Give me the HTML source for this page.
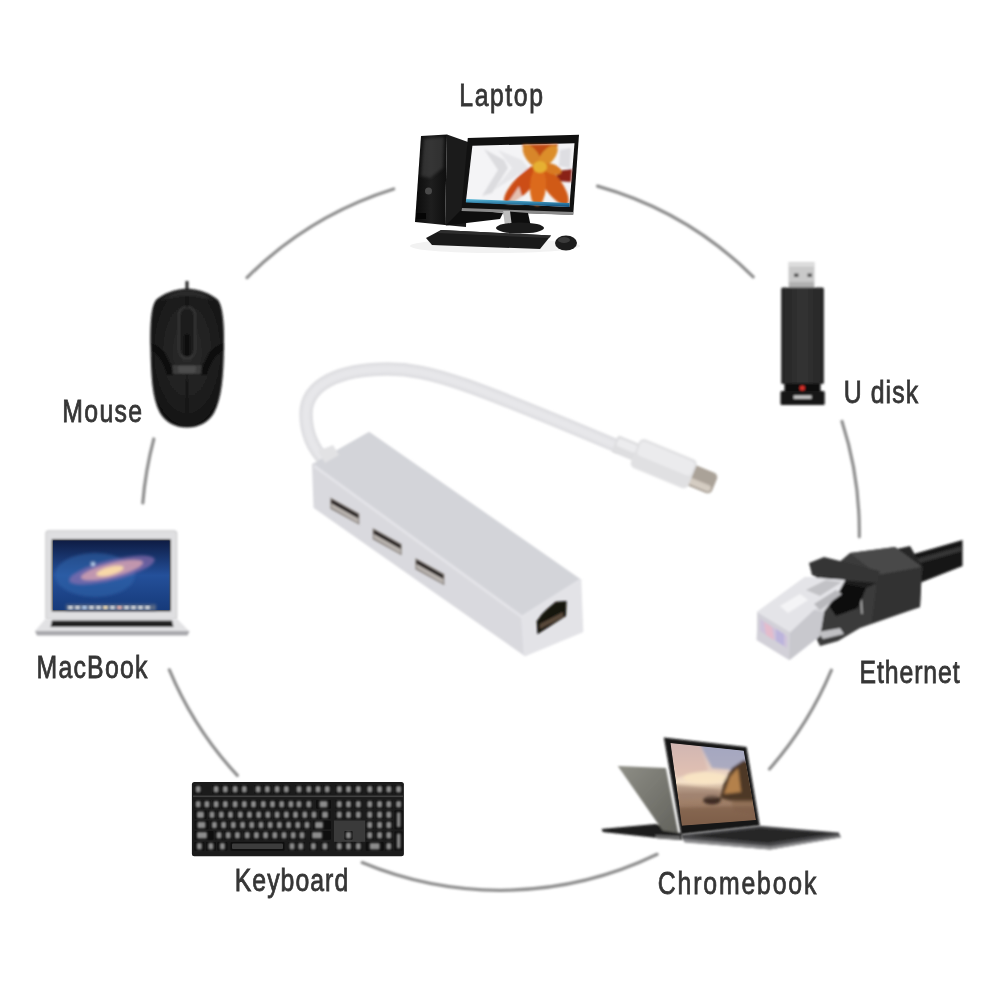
<!DOCTYPE html>
<html><head><meta charset="utf-8">
<style>
html,body{margin:0;padding:0;background:#fff;width:999px;height:999px;overflow:hidden}
svg{display:block}
text{font-family:"Liberation Sans",sans-serif;fill:#363636;stroke:#363636;stroke-width:0.8}
</style></head><body>
<svg width="999" height="999" viewBox="0 0 999 999">
<defs>
<linearGradient id="towerFront" x1="0" y1="0" x2="1" y2="0">
<stop offset="0" stop-color="#0a0a0a"/><stop offset="0.5" stop-color="#1e1e1e"/><stop offset="1" stop-color="#0e0e0e"/>
</linearGradient>
<linearGradient id="flower" x1="0" y1="0" x2="1" y2="1">
<stop offset="0" stop-color="#e07a20"/><stop offset="1" stop-color="#c84a10"/>
</linearGradient>
<radialGradient id="mouseBody" cx="0.5" cy="0.45" r="0.6">
<stop offset="0" stop-color="#2c2c2c"/><stop offset="0.7" stop-color="#1c1c1c"/><stop offset="1" stop-color="#0c0c0c"/>
</radialGradient>
<linearGradient id="udBody" x1="0" y1="0" x2="1" y2="0">
<stop offset="0" stop-color="#262626"/><stop offset="0.5" stop-color="#333"/><stop offset="1" stop-color="#262626"/>
</linearGradient>
<linearGradient id="galaxyBg" x1="0" y1="0" x2="0" y2="1">
<stop offset="0" stop-color="#0e1c44"/><stop offset="0.5" stop-color="#24509a"/><stop offset="1" stop-color="#163a7a"/>
</linearGradient>
<linearGradient id="cbLid" x1="0" y1="0" x2="1" y2="1">
<stop offset="0" stop-color="#8e8e86"/><stop offset="1" stop-color="#62625c"/>
</linearGradient>
<linearGradient id="cbScreen" x1="0" y1="0" x2="0" y2="1">
<stop offset="0" stop-color="#c4b8c0"/><stop offset="0.3" stop-color="#e4ccc0"/><stop offset="0.47" stop-color="#f4e0c8"/><stop offset="0.62" stop-color="#aa8a72"/><stop offset="1" stop-color="#80604c"/>
</linearGradient>
<filter id="soft" x="-10%" y="-10%" width="120%" height="120%"><feGaussianBlur stdDeviation="0.8"/></filter>
<filter id="soft2" x="-20%" y="-20%" width="140%" height="140%"><feGaussianBlur stdDeviation="1.5"/></filter>
<filter id="blur3" x="-30%" y="-30%" width="160%" height="160%"><feGaussianBlur stdDeviation="3"/></filter>
<linearGradient id="taskbar" x1="0" y1="0" x2="0" y2="1"><stop offset="0" stop-color="#5ab8d8"/><stop offset="1" stop-color="#0a4a7a"/></linearGradient>
<clipPath id="cbClip"><polygon points="670.5,743 743.7,750.7 756,820.1 681.9,825.8"/></clipPath>
<filter id="txt" x="-5%" y="-20%" width="110%" height="140%"><feGaussianBlur stdDeviation="0.5"/></filter>
</defs>
<rect width="999" height="999" fill="#fff"/>
<g fill="none" stroke="#8e8e8e" stroke-width="3.2" stroke-linecap="round" filter="url(#soft)">
<path d="M247.0 277.6A358.8 358.8 0 0 1 393.7 189.0"/>
<path d="M597.5 186.1A358.8 358.8 0 0 1 753.2 276.8"/>
<path d="M842.0 421.4A358.8 358.8 0 0 1 859.3 536.7"/>
<path d="M831.4 670.2A358.8 358.8 0 0 1 769.5 769.0"/>
<path d="M657.1 854.3A358.8 358.8 0 0 1 362.2 862.6"/>
<path d="M237.3 775.4A358.8 358.8 0 0 1 169.4 669.8"/>
<path d="M142.8 503.0A358.8 358.8 0 0 1 153.8 439.0"/>
</g>
<!-- desktop computer -->
<g id="desktop">
<ellipse cx="495" cy="246" rx="85" ry="7" fill="#f2f2f2"/>
<!-- tower -->
<polygon points="421,136 447,134.5 445,225 415,222" fill="url(#towerFront)"/>
<polygon points="447,134.5 468,142 466,227 445,225" fill="#1b1b1b"/>
<polygon points="424,139 444,137 443,168 430,178 421,176" fill="#4a4a4a" opacity="0.55" filter="url(#soft2)"/>
<circle cx="428.5" cy="191" r="3.5" fill="#4a4a4a"/>
<rect x="416" y="213" width="10" height="6" fill="#050505"/>
<!-- monitor -->
<polygon points="445.6,225.4 462,209 503,213 500,219" fill="#0e0e0e"/>

<polygon points="467.8,138 579,134.8 573.2,214.8 461.3,210.9" fill="#111"/>
<polygon points="472.4,145.8 574.5,143.2 569.3,207 465.9,201.8" fill="#f4f4f6"/>
<g filter="url(#soft)">
<polygon points="484,149 504,160 508,168 492,193 482,196 498,170" fill="#dcdcdf"/>
<polygon points="498,150 522,160 528,168 510,180 494,190 512,168" fill="#e6e6e9"/>
<polygon points="560,150 571,148 570,168 559,166" fill="#dedee2"/>
<polygon points="557,171 572,169 571,182 556,181" fill="#8a2418"/>
<polygon points="522,144.5 558,144 553,158 540,166 527,158" fill="#c24e16"/>
<ellipse cx="523" cy="184" rx="26" ry="8.5" transform="rotate(134 523 184)" fill="#cc4e12"/>
<ellipse cx="553" cy="185" rx="24" ry="8.5" transform="rotate(54 553 185)" fill="#d05a16"/>
<ellipse cx="538" cy="186" rx="20" ry="8" transform="rotate(93 538 186)" fill="#dc6a1c"/>
<ellipse cx="532" cy="156" rx="13" ry="6.5" transform="rotate(54 532 156)" fill="#d8862a"/>
<ellipse cx="548" cy="156" rx="13" ry="6.5" transform="rotate(130 548 156)" fill="#dc8e2c"/>
<ellipse cx="552" cy="169" rx="10" ry="5" transform="rotate(20 552 169)" fill="#d87a20"/>
<ellipse cx="540" cy="167" rx="7" ry="6" fill="#e6b030"/>
<polygon points="507,204 519,186 524,204" fill="#f0f0f2" opacity="0.7"/>
</g>
<polygon points="466,199 569.7,203 569.3,207 465.9,202.5" fill="url(#taskbar)"/>
<polygon points="462,208 573,212 573,215 461.5,211" fill="#8a8a8a"/>
<!-- stand -->
<polygon points="503,211 528,213 531,227 507,227" fill="#0d0d0d"/>
<polygon points="503,211 510,211 512,227 505,226" fill="#bdbdbd"/>
<ellipse cx="520" cy="228" rx="24" ry="5.5" fill="#1a1a1a"/>
<!-- keyboard -->
<polygon points="426,238 441,230 551,235.5 540,249 432,245" fill="#1a1a1a"/>
<polygon points="441,230 551,235.5 549,238 438,233" fill="#2d2d2d"/>
<!-- mouse -->
<ellipse cx="566" cy="243" rx="11" ry="7.5" fill="#1c1c1c"/>
<ellipse cx="564" cy="240" rx="6" ry="3" fill="#3a3a3a"/>
</g>
<!-- USB hub -->
<g id="hub">
<!-- cable -->
<path d="M326 462 C311 447 306 431 306 414 C306 384 340 369 388 369 C430 369 470 384 617 446" fill="none" stroke="#dfdfe2" stroke-width="13.5" stroke-linecap="round" filter="url(#soft)"/>
<path d="M326 462 C311 447 306 431 306 414 C306 384 340 369 388 369 C430 369 470 384 617 446" fill="none" stroke="#e7e7ea" stroke-width="7" stroke-linecap="round" filter="url(#soft2)"/>
<!-- plug -->
<g transform="translate(635.1 451.85) rotate(22.5)" filter="url(#soft)">
<rect x="56" y="-11" width="30" height="22" rx="5" fill="#aaa298"/>
<rect x="58" y="2.5" width="26" height="6.5" rx="3" fill="#d4ccc2"/>
<rect x="-22" y="-9" width="24" height="18" rx="2" fill="#dedee0"/>
<rect x="-20" y="-6.5" width="20" height="8" rx="2" fill="#ececee"/>
<rect x="0" y="-15.5" width="62" height="31" rx="5" fill="#e0e0e2"/>
<rect x="2" y="-13" width="58" height="15" rx="4" fill="#ebebed"/>
</g>
<!-- body -->
<g filter="url(#soft)">
<polygon points="369,433.5 313.5,465 522.5,616.8 579.8,580.4" fill="#d3d4d9" stroke="#d3d4d9" stroke-width="3" stroke-linejoin="round"/>
<polygon points="313.5,465 522.5,616.8 525.2,654.6 315,507" fill="#d9d9de" stroke="#d9d9de" stroke-width="3" stroke-linejoin="round"/>
<polygon points="522.5,616.8 579.8,580.4 581.8,631 525.2,654.6" fill="#e3e3e7" stroke="#e3e3e7" stroke-width="3" stroke-linejoin="round"/>
<line x1="314" y1="466" x2="522.5" y2="617.5" stroke="#e4e4e8" stroke-width="2.5"/>
<path d="M318 451 L333 445 L339 455 L325 463Z" fill="#e2e2e4"/>
</g>
<!-- usb ports -->
<g id="port" filter="url(#soft)">
<polygon points="330.4,497.6 359.3,513.6 359.3,524.8 330.4,508.8" fill="#8a8480"/>
<polygon points="331.5,499.5 358.2,514.5 358.2,518.5 331.5,503.5" fill="#1a1414"/>
<polygon points="331.5,503.5 358.2,518.5 358.2,523 331.5,507.5" fill="#b8b2ae"/>
</g>
<use href="#port" transform="translate(42.3 30.5)"/>
<use href="#port" transform="translate(85 60.5)"/>
<!-- rj45 -->
<g filter="url(#soft)">
<polygon points="536.7,621.2 541.9,614 546.5,609.5 555.6,601.7 566.6,601 566,616 537.4,634.2" fill="#141210"/>
<polygon points="540,624 563,612 563,617 540,629" fill="#5a4a3a"/>
</g>
</g>
<!-- mouse -->
<g id="mouse">
<g filter="url(#soft)">
<rect x="185.5" y="281" width="3" height="10" fill="#222"/>
<path d="M187 288.5 C174 289 163 294 156 300 C151 307 150 325 150.5 347 C151 375 152 398 160 413 C166 423 176 427.5 187 427.5 C198 427.5 208 423 214 413 C222 398 223.5 375 224 347 C224.5 325 223 307 218 300 C211 294 200 289 187 288.5Z" fill="url(#mouseBody)"/>
<path d="M187 290 C176 291 166 295 160 301 C170 298 178 296 187 296 C196 296 204 298 214 301 C208 295 198 291 187 290Z" fill="#333" opacity="0.6"/>
<rect x="179" y="307" width="16" height="51" rx="8" fill="#1a1a1a" stroke="#3c3c3c" stroke-width="1.6"/>
<rect x="184.5" y="334" width="5" height="22" rx="2.5" fill="#080808"/>
<rect x="186" y="296" width="2" height="11" fill="#101010"/>
<path d="M151 343 C160 346 166 352 170 364 L204 364 C208 352 214 346 224 343 L224 350 C216 354 211 362 207 375 L167 375 C163 362 158 354 151 350Z" fill="#0e0e0e"/>
<path d="M172 365 L202 365 L201 374 L173 374Z" fill="#3e3e3e"/>
<path d="M178 366 L196 366 L195 373 L179 373Z" fill="#4e4e4e"/>
<rect x="186.2" y="375" width="1.6" height="38" fill="#0e0e0e"/>
</g>
</g>
<!-- u disk -->
<g id="udisk" filter="url(#soft)">
<rect x="788.5" y="262" width="26" height="26" fill="#c9c9c9"/>
<rect x="789" y="262.5" width="25" height="4" fill="#dedede"/>
<rect x="789" y="282" width="25" height="6" fill="#b0b0b0"/>
<rect x="794" y="273.5" width="4.5" height="3.5" fill="#505050"/>
<rect x="807.5" y="273.5" width="4.5" height="3.5" fill="#505050"/>
<rect x="781.2" y="287.6" width="42.7" height="96.5" rx="1.5" fill="url(#udBody)"/>
<rect x="784.5" y="383.5" width="36" height="8" fill="#0c0c0c"/>
<circle cx="802.3" cy="388" r="2.6" fill="#d8302a"/>
<rect x="780.5" y="391" width="44.2" height="14" rx="1.5" fill="#121212"/>
<rect x="793.6" y="395.5" width="18" height="3.2" fill="#d0d0d0"/>
</g>
<!-- macbook -->
<g id="macbook">
<g filter="url(#soft)">
<rect x="45.3" y="530.2" width="132" height="90" rx="3.5" fill="#c8c8ca"/>
<rect x="46.3" y="531.2" width="130" height="88" rx="3" fill="#dfdfe1"/>
<rect x="51.8" y="539.3" width="119" height="72" fill="#1a1a1e"/>
</g>
<rect x="53" y="540.5" width="116.6" height="69.6" fill="url(#galaxyBg)"/>
<g filter="url(#soft2)">
<ellipse cx="95" cy="575" rx="40" ry="22" fill="#3468b0" opacity="0.5"/>
<ellipse cx="112" cy="570" rx="44" ry="10" fill="#9070b0" opacity="0.65" transform="rotate(-14 112 570)"/>
<ellipse cx="112" cy="570" rx="32" ry="7" fill="#d0a0b0" opacity="0.85" transform="rotate(-14 112 570)"/>
<ellipse cx="110" cy="571" rx="14" ry="4" fill="#f8d8a8" transform="rotate(-14 110 571)"/>
<circle cx="93" cy="564" r="2" fill="#d0e4f8"/>
<rect x="66" y="604.5" width="90" height="6" fill="#6a7488" opacity="0.8"/>
</g>
<g filter="url(#soft)" fill="#c8ccd4">
<rect x="68" y="605.5" width="5" height="4"/><rect x="75" y="605.5" width="5" height="4"/><rect x="82" y="605.5" width="5" height="4" fill="#a8c0e0"/><rect x="89" y="605.5" width="5" height="4"/><rect x="96" y="605.5" width="5" height="4"/><rect x="103" y="605.5" width="5" height="4" fill="#e0d0b0"/><rect x="110" y="605.5" width="5" height="4"/><rect x="117" y="605.5" width="5" height="4" fill="#d8a8a8"/><rect x="124" y="605.5" width="5" height="4"/><rect x="131" y="605.5" width="5" height="4"/><rect x="138" y="605.5" width="5" height="4"/><rect x="145" y="605.5" width="5" height="4"/>
</g>
<g filter="url(#soft)">
<polygon points="45.3,619 177.2,619 189,631 35,631" fill="#e2e2e4"/>
<polygon points="52,620.5 172,620.5 173.5,627 50.5,627" fill="#222"/>
<polygon points="35,631 189.5,631 187.5,635.5 37,635.5" fill="#a8a8ac"/>
</g>
</g>
<!-- ethernet -->
<g id="eth">
<g filter="url(#soft)">
<!-- cable -->
<polygon points="900,558 962.5,540 962.5,566 917,584" fill="#151515"/>
<polygon points="908,561 962.5,546 962.5,551 910,566" fill="#444" opacity="0.7"/>
<polygon points="892,550 910,546 924,570 906,578" fill="#262626"/>
<!-- boot base -->
<polygon points="812,585 850,553 895,547 922,567 920,607 860,628 838,641 820,646 812,630" fill="#3a3a3a"/>
<polygon points="850,553 895,547 922,567 878,575" fill="#4a4a4a"/>
<polygon points="878,575 922,567 920,607 872,622" fill="#303030"/>
<line x1="861" y1="598" x2="862" y2="614" stroke="#bbb" stroke-width="1.4"/>
<!-- latch -->
<polygon points="809,563 824,557 880,571 877,583 842,580 812,575" fill="#353535"/>
<polygon points="812,575 842,580 877,583 866,588 832,586" fill="#1e1e1e"/>
<!-- black slot -->
<polygon points="824,598 846,584 866,588 858,608 836,616" fill="#0c0c0c"/>
<!-- clear head -->
<polygon points="757,612 805,577 845,580 840,590 824,612 820,636 790,660 757,640" fill="#d8d8dc"/>
<polygon points="757,612 805,577 845,580 838,592 814,610 790,632" fill="#e4e4e8"/>
<polygon points="806,590 826,580 842,582 820,596" fill="#c2c2c6"/>
<polygon points="814,604 836,590 842,594 820,610" fill="#b8b8bc"/>
<polygon points="780,606 800,594 808,600 788,613" fill="#f4f4f6"/>
<polygon points="757.8,613 790,633 789,660 756.5,640" fill="#d2d0d8"/>
<polygon points="760,619 787,636 787,648 760,631" fill="#cec2da"/>
<polygon points="764,622 772,627 774,640 766,635" fill="#e4bccc"/>
<polygon points="776,629 784,634 784,646 776,641" fill="#bcb4dc"/>
<polygon points="790,633 814,610 824,612 820,636 789,660" fill="#c8c8cd"/>
<polygon points="818,632 840,628 844,634 823,639" fill="#c0c0c3"/>
</g>
</g>
<!-- keyboard -->
<g id="kbd">
<rect x="191.9" y="781.9" width="212" height="74.3" rx="2.5" fill="#1b1b1b"/>
<rect x="193" y="795.5" width="210" height="1.6" fill="#404040"/>
<rect x="334" y="820.5" width="31.2" height="21.3" fill="#3a3a3a"/>
<g fill="#0e0e0e">
<rect x="194.1" y="785.1" width="8.2" height="8.6" rx="1"/>
<rect x="212.0" y="785.1" width="8.2" height="8.6" rx="1"/>
<rect x="221.2" y="785.1" width="8.2" height="8.6" rx="1"/>
<rect x="231.0" y="785.1" width="8.2" height="8.6" rx="1"/>
<rect x="240.2" y="785.1" width="8.2" height="8.6" rx="1"/>
<rect x="254.0" y="785.1" width="8.2" height="8.6" rx="1"/>
<rect x="263.2" y="785.1" width="8.2" height="8.6" rx="1"/>
<rect x="273.0" y="785.1" width="8.2" height="8.6" rx="1"/>
<rect x="282.2" y="785.1" width="8.2" height="8.6" rx="1"/>
<rect x="294.9" y="785.1" width="8.2" height="8.6" rx="1"/>
<rect x="304.7" y="785.1" width="8.2" height="8.6" rx="1"/>
<rect x="313.9" y="785.1" width="8.2" height="8.6" rx="1"/>
<rect x="323.1" y="785.1" width="8.2" height="8.6" rx="1"/>
<rect x="335.2" y="785.1" width="8.2" height="8.6" rx="1"/>
<rect x="344.4" y="785.1" width="8.2" height="8.6" rx="1"/>
<rect x="354.2" y="785.1" width="8.2" height="8.6" rx="1"/>
<rect x="365.7" y="785.1" width="8.2" height="8.6" rx="1"/>
<rect x="375.5" y="785.1" width="8.2" height="8.6" rx="1"/>
<rect x="384.7" y="785.1" width="8.2" height="8.6" rx="1"/>
<rect x="394.5" y="785.1" width="8.2" height="8.6" rx="1"/>
<rect x="194.1" y="800.1" width="8.2" height="8.6" rx="1"/>
<rect x="202.8" y="800.1" width="8.2" height="8.6" rx="1"/>
<rect x="212.0" y="800.1" width="8.2" height="8.6" rx="1"/>
<rect x="221.2" y="800.1" width="8.2" height="8.6" rx="1"/>
<rect x="231.0" y="800.1" width="8.2" height="8.6" rx="1"/>
<rect x="240.2" y="800.1" width="8.2" height="8.6" rx="1"/>
<rect x="249.4" y="800.1" width="8.2" height="8.6" rx="1"/>
<rect x="259.2" y="800.1" width="8.2" height="8.6" rx="1"/>
<rect x="268.4" y="800.1" width="8.2" height="8.6" rx="1"/>
<rect x="277.6" y="800.1" width="8.2" height="8.6" rx="1"/>
<rect x="286.8" y="800.1" width="8.2" height="8.6" rx="1"/>
<rect x="294.9" y="800.1" width="8.2" height="8.6" rx="1"/>
<rect x="304.7" y="800.1" width="8.2" height="8.6" rx="1"/>
<rect x="316.0" y="800.1" width="15.0" height="8.6" rx="1"/>
<rect x="194.5" y="810.4" width="12.0" height="8.6" rx="1"/>
<rect x="207.9" y="810.4" width="8.2" height="8.6" rx="1"/>
<rect x="217.2" y="810.4" width="8.2" height="8.6" rx="1"/>
<rect x="226.4" y="810.4" width="8.2" height="8.6" rx="1"/>
<rect x="236.2" y="810.4" width="8.2" height="8.6" rx="1"/>
<rect x="245.4" y="810.4" width="8.2" height="8.6" rx="1"/>
<rect x="254.6" y="810.4" width="8.2" height="8.6" rx="1"/>
<rect x="263.8" y="810.4" width="8.2" height="8.6" rx="1"/>
<rect x="273.0" y="810.4" width="8.2" height="8.6" rx="1"/>
<rect x="282.2" y="810.4" width="8.2" height="8.6" rx="1"/>
<rect x="291.4" y="810.4" width="8.2" height="8.6" rx="1"/>
<rect x="300.7" y="810.4" width="8.2" height="8.6" rx="1"/>
<rect x="309.9" y="810.4" width="8.2" height="8.6" rx="1"/>
<rect x="319.5" y="810.4" width="11.0" height="8.6" rx="1"/>
<rect x="194.5" y="820.7" width="14.0" height="8.6" rx="1"/>
<rect x="210.3" y="820.7" width="8.2" height="8.6" rx="1"/>
<rect x="219.5" y="820.7" width="8.2" height="8.6" rx="1"/>
<rect x="229.2" y="820.7" width="8.2" height="8.6" rx="1"/>
<rect x="238.5" y="820.7" width="8.2" height="8.6" rx="1"/>
<rect x="247.7" y="820.7" width="8.2" height="8.6" rx="1"/>
<rect x="256.9" y="820.7" width="8.2" height="8.6" rx="1"/>
<rect x="266.1" y="820.7" width="8.2" height="8.6" rx="1"/>
<rect x="275.3" y="820.7" width="8.2" height="8.6" rx="1"/>
<rect x="284.5" y="820.7" width="8.2" height="8.6" rx="1"/>
<rect x="293.7" y="820.7" width="8.2" height="8.6" rx="1"/>
<rect x="302.9" y="820.7" width="8.2" height="8.6" rx="1"/>
<rect x="313.0" y="820.7" width="18.0" height="8.6" rx="1"/>
<rect x="194.5" y="831.1" width="19.0" height="8.6" rx="1"/>
<rect x="214.9" y="831.1" width="8.2" height="8.6" rx="1"/>
<rect x="224.1" y="831.1" width="8.2" height="8.6" rx="1"/>
<rect x="233.3" y="831.1" width="8.2" height="8.6" rx="1"/>
<rect x="243.1" y="831.1" width="8.2" height="8.6" rx="1"/>
<rect x="252.3" y="831.1" width="8.2" height="8.6" rx="1"/>
<rect x="261.5" y="831.1" width="8.2" height="8.6" rx="1"/>
<rect x="270.7" y="831.1" width="8.2" height="8.6" rx="1"/>
<rect x="279.9" y="831.1" width="8.2" height="8.6" rx="1"/>
<rect x="289.1" y="831.1" width="8.2" height="8.6" rx="1"/>
<rect x="297.9" y="831.1" width="8.2" height="8.6" rx="1"/>
<rect x="310.0" y="831.1" width="21.0" height="8.6" rx="1"/>
<rect x="194.4" y="842.1" width="10.0" height="8.6" rx="1"/>
<rect x="205.9" y="842.1" width="10.0" height="8.6" rx="1"/>
<rect x="217.4" y="842.1" width="10.0" height="8.6" rx="1"/>
<rect x="230.5" y="842.1" width="54" height="8.6" rx="1"/>
<rect x="287.8" y="842.1" width="8.5" height="8.6" rx="1"/>
<rect x="296.6" y="842.1" width="8.5" height="8.6" rx="1"/>
<rect x="309.1" y="842.1" width="8.5" height="8.6" rx="1"/>
<rect x="320.6" y="842.1" width="8.5" height="8.6" rx="1"/>
<rect x="335.2" y="800.1" width="8.2" height="8.6" rx="1"/>
<rect x="344.4" y="800.1" width="8.2" height="8.6" rx="1"/>
<rect x="354.2" y="800.1" width="8.2" height="8.6" rx="1"/>
<rect x="335.2" y="810.4" width="8.2" height="8.6" rx="1"/>
<rect x="344.4" y="810.4" width="8.2" height="8.6" rx="1"/>
<rect x="354.2" y="810.4" width="8.2" height="8.6" rx="1"/>
<rect x="344.4" y="831.1" width="8.2" height="8.6" rx="1"/>
<rect x="335.2" y="842.1" width="8.2" height="8.6" rx="1"/>
<rect x="344.4" y="842.1" width="8.2" height="8.6" rx="1"/>
<rect x="354.2" y="842.1" width="8.2" height="8.6" rx="1"/>
<rect x="365.7" y="800.1" width="8.2" height="8.6" rx="1"/>
<rect x="375.5" y="800.1" width="8.2" height="8.6" rx="1"/>
<rect x="384.7" y="800.1" width="8.2" height="8.6" rx="1"/>
<rect x="365.7" y="810.4" width="8.2" height="8.6" rx="1"/>
<rect x="375.5" y="810.4" width="8.2" height="8.6" rx="1"/>
<rect x="384.7" y="810.4" width="8.2" height="8.6" rx="1"/>
<rect x="365.7" y="820.7" width="8.2" height="8.6" rx="1"/>
<rect x="375.5" y="820.7" width="8.2" height="8.6" rx="1"/>
<rect x="384.7" y="820.7" width="8.2" height="8.6" rx="1"/>
<rect x="365.7" y="831.1" width="8.2" height="8.6" rx="1"/>
<rect x="375.5" y="831.1" width="8.2" height="8.6" rx="1"/>
<rect x="384.7" y="831.1" width="8.2" height="8.6" rx="1"/>
<rect x="394.5" y="800.1" width="8.2" height="8.6" rx="1"/>
<rect x="394.5" y="810.3" width="8.2" height="19.0" rx="1"/>
<rect x="394.5" y="831.4" width="8.2" height="19.0" rx="1"/>
<rect x="365.7" y="842.1" width="18.0" height="8.6" rx="1"/>
<rect x="384.7" y="842.1" width="8.2" height="8.6" rx="1"/>
</g>
<rect x="232" y="843.5" width="51" height="5.5" rx="1" fill="#3c3c3c"/>
<g fill="#8c8c8c" filter="url(#soft)">
<rect x="195.7" y="786.1" width="5.0" height="6.5" rx="1"/>
<rect x="213.6" y="786.1" width="5.0" height="6.5" rx="1"/>
<rect x="222.8" y="786.1" width="5.0" height="6.5" rx="1"/>
<rect x="232.6" y="786.1" width="5.0" height="6.5" rx="1"/>
<rect x="241.8" y="786.1" width="5.0" height="6.5" rx="1"/>
<rect x="255.6" y="786.1" width="5.0" height="6.5" rx="1"/>
<rect x="264.8" y="786.1" width="5.0" height="6.5" rx="1"/>
<rect x="274.6" y="786.1" width="5.0" height="6.5" rx="1"/>
<rect x="283.8" y="786.1" width="5.0" height="6.5" rx="1"/>
<rect x="296.5" y="786.1" width="5.0" height="6.5" rx="1"/>
<rect x="306.3" y="786.1" width="5.0" height="6.5" rx="1"/>
<rect x="315.5" y="786.1" width="5.0" height="6.5" rx="1"/>
<rect x="324.7" y="786.1" width="5.0" height="6.5" rx="1"/>
<rect x="336.8" y="786.1" width="5.0" height="6.5" rx="1"/>
<rect x="346.0" y="786.1" width="5.0" height="6.5" rx="1"/>
<rect x="355.8" y="786.1" width="5.0" height="6.5" rx="1"/>
<rect x="367.3" y="786.1" width="5.0" height="6.5" rx="1"/>
<rect x="377.1" y="786.1" width="5.0" height="6.5" rx="1"/>
<rect x="386.3" y="786.1" width="5.0" height="6.5" rx="1"/>
<rect x="396.1" y="786.1" width="5.0" height="6.5" rx="1"/>
<rect x="195.7" y="801.1" width="5.0" height="6.5" rx="1"/>
<rect x="204.4" y="801.1" width="5.0" height="6.5" rx="1"/>
<rect x="213.6" y="801.1" width="5.0" height="6.5" rx="1"/>
<rect x="222.8" y="801.1" width="5.0" height="6.5" rx="1"/>
<rect x="232.6" y="801.1" width="5.0" height="6.5" rx="1"/>
<rect x="241.8" y="801.1" width="5.0" height="6.5" rx="1"/>
<rect x="251.0" y="801.1" width="5.0" height="6.5" rx="1"/>
<rect x="260.8" y="801.1" width="5.0" height="6.5" rx="1"/>
<rect x="270.0" y="801.1" width="5.0" height="6.5" rx="1"/>
<rect x="279.2" y="801.1" width="5.0" height="6.5" rx="1"/>
<rect x="288.4" y="801.1" width="5.0" height="6.5" rx="1"/>
<rect x="296.5" y="801.1" width="5.0" height="6.5" rx="1"/>
<rect x="306.3" y="801.1" width="5.0" height="6.5" rx="1"/>
<rect x="319.5" y="801.1" width="8.0" height="6.5" rx="1"/>
<rect x="197.0" y="811.5" width="7.0" height="6.5" rx="1"/>
<rect x="209.5" y="811.5" width="5.0" height="6.5" rx="1"/>
<rect x="218.8" y="811.5" width="5.0" height="6.5" rx="1"/>
<rect x="228.0" y="811.5" width="5.0" height="6.5" rx="1"/>
<rect x="237.8" y="811.5" width="5.0" height="6.5" rx="1"/>
<rect x="247.0" y="811.5" width="5.0" height="6.5" rx="1"/>
<rect x="256.2" y="811.5" width="5.0" height="6.5" rx="1"/>
<rect x="265.4" y="811.5" width="5.0" height="6.5" rx="1"/>
<rect x="274.6" y="811.5" width="5.0" height="6.5" rx="1"/>
<rect x="283.8" y="811.5" width="5.0" height="6.5" rx="1"/>
<rect x="293.0" y="811.5" width="5.0" height="6.5" rx="1"/>
<rect x="302.3" y="811.5" width="5.0" height="6.5" rx="1"/>
<rect x="311.5" y="811.5" width="5.0" height="6.5" rx="1"/>
<rect x="322.0" y="811.5" width="6.0" height="6.5" rx="1"/>
<rect x="197.5" y="821.8" width="8.0" height="6.5" rx="1"/>
<rect x="211.9" y="821.8" width="5.0" height="6.5" rx="1"/>
<rect x="221.1" y="821.8" width="5.0" height="6.5" rx="1"/>
<rect x="230.8" y="821.8" width="5.0" height="6.5" rx="1"/>
<rect x="240.1" y="821.8" width="5.0" height="6.5" rx="1"/>
<rect x="249.3" y="821.8" width="5.0" height="6.5" rx="1"/>
<rect x="258.5" y="821.8" width="5.0" height="6.5" rx="1"/>
<rect x="267.7" y="821.8" width="5.0" height="6.5" rx="1"/>
<rect x="276.9" y="821.8" width="5.0" height="6.5" rx="1"/>
<rect x="286.1" y="821.8" width="5.0" height="6.5" rx="1"/>
<rect x="295.3" y="821.8" width="5.0" height="6.5" rx="1"/>
<rect x="304.5" y="821.8" width="5.0" height="6.5" rx="1"/>
<rect x="315.0" y="821.8" width="8.0" height="6.5" rx="1"/>
<rect x="197.0" y="832.1" width="10.0" height="6.5" rx="1"/>
<rect x="216.5" y="832.1" width="5.0" height="6.5" rx="1"/>
<rect x="225.7" y="832.1" width="5.0" height="6.5" rx="1"/>
<rect x="234.9" y="832.1" width="5.0" height="6.5" rx="1"/>
<rect x="244.7" y="832.1" width="5.0" height="6.5" rx="1"/>
<rect x="253.9" y="832.1" width="5.0" height="6.5" rx="1"/>
<rect x="263.1" y="832.1" width="5.0" height="6.5" rx="1"/>
<rect x="272.3" y="832.1" width="5.0" height="6.5" rx="1"/>
<rect x="281.5" y="832.1" width="5.0" height="6.5" rx="1"/>
<rect x="290.7" y="832.1" width="5.0" height="6.5" rx="1"/>
<rect x="299.5" y="832.1" width="5.0" height="6.5" rx="1"/>
<rect x="312.0" y="832.1" width="10.0" height="6.5" rx="1"/>
<rect x="196.9" y="843.1" width="5.0" height="6.5" rx="1"/>
<rect x="208.4" y="843.1" width="5.0" height="6.5" rx="1"/>
<rect x="219.9" y="843.1" width="5.0" height="6.5" rx="1"/>
<rect x="289.5" y="843.1" width="5.0" height="6.5" rx="1"/>
<rect x="298.3" y="843.1" width="5.0" height="6.5" rx="1"/>
<rect x="310.9" y="843.1" width="5.0" height="6.5" rx="1"/>
<rect x="322.4" y="843.1" width="5.0" height="6.5" rx="1"/>
<rect x="336.8" y="801.1" width="5.0" height="6.5" rx="1"/>
<rect x="346.0" y="801.1" width="5.0" height="6.5" rx="1"/>
<rect x="355.8" y="801.1" width="5.0" height="6.5" rx="1"/>
<rect x="336.8" y="811.5" width="5.0" height="6.5" rx="1"/>
<rect x="346.0" y="811.5" width="5.0" height="6.5" rx="1"/>
<rect x="355.8" y="811.5" width="5.0" height="6.5" rx="1"/>
<rect x="346.0" y="832.1" width="5.0" height="6.5" rx="1"/>
<rect x="336.8" y="843.1" width="5.0" height="6.5" rx="1"/>
<rect x="346.0" y="843.1" width="5.0" height="6.5" rx="1"/>
<rect x="355.8" y="843.1" width="5.0" height="6.5" rx="1"/>
<rect x="367.3" y="801.1" width="5.0" height="6.5" rx="1"/>
<rect x="377.1" y="801.1" width="5.0" height="6.5" rx="1"/>
<rect x="386.3" y="801.1" width="5.0" height="6.5" rx="1"/>
<rect x="367.3" y="811.5" width="5.0" height="6.5" rx="1"/>
<rect x="377.1" y="811.5" width="5.0" height="6.5" rx="1"/>
<rect x="386.3" y="811.5" width="5.0" height="6.5" rx="1"/>
<rect x="367.3" y="821.8" width="5.0" height="6.5" rx="1"/>
<rect x="377.1" y="821.8" width="5.0" height="6.5" rx="1"/>
<rect x="386.3" y="821.8" width="5.0" height="6.5" rx="1"/>
<rect x="367.3" y="832.1" width="5.0" height="6.5" rx="1"/>
<rect x="377.1" y="832.1" width="5.0" height="6.5" rx="1"/>
<rect x="386.3" y="832.1" width="5.0" height="6.5" rx="1"/>
<rect x="396.1" y="801.1" width="5.0" height="6.5" rx="1"/>
<rect x="396.9" y="812.3" width="3.5" height="15.0" rx="1"/>
<rect x="396.9" y="833.4" width="3.5" height="15.0" rx="1"/>
<rect x="369.7" y="843.1" width="10.0" height="6.5" rx="1"/>
<rect x="386.3" y="843.1" width="5.0" height="6.5" rx="1"/>
</g>
</g>
<!-- chromebook -->
<g id="chromebook">
<g filter="url(#soft)">
<!-- back laptop -->
<polygon points="601.5,829.1 656,823.9 682,834 682,840 660,838.2 603,832" fill="#1a1a1a"/>
<polygon points="617.8,766 665.9,768 678.3,833 662.7,830.4" fill="url(#cbLid)"/>
<polygon points="655,835 680,836 680,840 657,838.5" fill="#6a6a6a"/>
<!-- front lid -->
<polygon points="663.8,737.4 746.5,746.9 759.8,825.8 680.9,834.4" fill="#121212"/>
</g>
<g clip-path="url(#cbClip)">
<polygon points="670.5,743 743.7,750.7 756,820.1 681.9,825.8" fill="url(#cbScreen)"/>
<g filter="url(#soft2)">
<polygon points="700,744 746,748 750,790 735,770 712,768" fill="#98a0c0" opacity="0.75"/>
<polygon points="668,742 700,744 708,770 676,778" fill="#d8b4a8" opacity="0.6"/>
<ellipse cx="705" cy="778" rx="22" ry="6" fill="#fae6c4" opacity="0.9"/>
<polygon points="720,798 724,782 732,768 744,760 756,766 756,802 735,802" fill="#4e3828"/>
<polygon points="724,794 730,777 738,768 741,792" fill="#c08a50" opacity="0.9"/>
<ellipse cx="712" cy="800" rx="9" ry="4.5" fill="#3e2c20"/>
<polygon points="676,785 720,790 718,798 680,800" fill="#9a8070" opacity="0.5"/>
<polygon points="730,800 756,800 756,815 735,812" fill="#8a6a50" opacity="0.6"/>
<polygon points="672,808 756,806 756,826 680,826" fill="#7a5a46" opacity="0.6"/>
</g>
</g>
<g filter="url(#soft)">
<!-- base -->
<polygon points="680.9,834.4 759.8,825.8 838.8,832.5 840.7,837.2 770.3,849.6 684.7,842 681.9,838.2" fill="#4a4a4c"/>
<polygon points="690,836 760,828 834,833.5 768,843" fill="#262626"/>
<polygon points="683,839 770.3,846.5 840.7,835.5 840.7,837.5 770.3,849.6 684.7,842.5" fill="#8c8c8e"/>
</g>
</g>
<g font-size="31" filter="url(#txt)">
<text transform="translate(459.3 105.5) scale(0.80 1)" x="0" y="0" textLength="104.6" lengthAdjust="spacing">Laptop</text>
<text transform="translate(62.3 422.0) scale(0.80 1)" x="0" y="0" textLength="99.6" lengthAdjust="spacing">Mouse</text>
<text transform="translate(843.8 403.0) scale(0.80 1)" x="0" y="0" textLength="92.8" lengthAdjust="spacing">U disk</text>
<text transform="translate(36.6 678.2) scale(0.80 1)" x="0" y="0" textLength="138.4" lengthAdjust="spacing">MacBook</text>
<text transform="translate(859.4 682.7) scale(0.80 1)" x="0" y="0" textLength="125.4" lengthAdjust="spacing">Ethernet</text>
<text transform="translate(234.7 891.2) scale(0.80 1)" x="0" y="0" textLength="141.9" lengthAdjust="spacing">Keyboard</text>
<text transform="translate(657.8 894.2) scale(0.80 1)" x="0" y="0" textLength="198.2" lengthAdjust="spacing">Chromebook</text>
</g>

</svg>
</body></html>
